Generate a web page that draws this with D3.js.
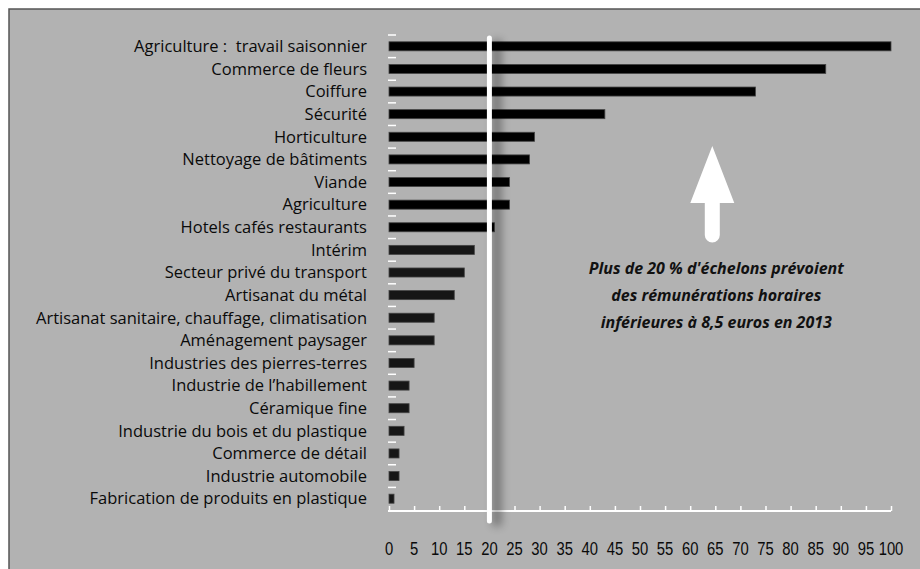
<!DOCTYPE html>
<html>
<head>
<meta charset="utf-8">
<script src="https://cdn.jsdelivr.net/npm/d3@7"></script>
<style>
  body { margin: 0; background: #fff; }
  svg { display: block; }
</style>
</head>
<body>
<svg width="920" height="569"></svg>
<script>
// branches et part d'échelons sous 8,5 euros (en %)
const branches = [
  "Agriculture :\u00a0 travail saisonnier", "Commerce de fleurs", "Coiffure", "Sécurité",
  "Horticulture", "Nettoyage de bâtiments", "Viande", "Agriculture",
  "Hotels cafés restaurants", "Intérim", "Secteur privé du transport",
  "Artisanat du métal", "Artisanat sanitaire, chauffage, climatisation",
  "Aménagement paysager", "Industries des pierres-terres", "Industrie de l\u2019habillement",
  "Céramique fine", "Industrie du bois et du plastique", "Commerce de détail",
  "Industrie automobile", "Fabrication de produits en plastique"
];
const parts = [100, 87, 73, 43, 29, 28, 24, 24, 21, 17, 15, 13, 9, 9, 5, 4, 4, 3, 2, 2, 1];
const xTicks = d3.range(0, 101, 5);
const seuil = 20;
const noteLines = [
  "Plus de 20 % d'échelons prévoient",
  "des rémunérations horaires",
  "inférieures à 8,5 euros en 2013"
];

const svg = d3.select("svg");

// fond gris encadré
svg.append("rect")
  .attr("x", 9).attr("y", 9)
  .attr("width", 930).attr("height", 580)
  .attr("fill", "#b2b2b2")
  .attr("stroke", "#555").attr("stroke-width", 1.5);

const x = d3.scaleLinear().domain([0, 100]).range([389, 891]);
const y = d3.scaleBand().domain(branches).range([35, 510])
  .paddingInner(0.6).paddingOuter(0.3);

const defs = svg.append("defs");
defs.append("filter").attr("id", "flou")
  .attr("filterUnits", "userSpaceOnUse")
  .attr("x", 400).attr("y", 0).attr("width", 200).attr("height", 569)
  .append("feGaussianBlur").attr("stdDeviation", 4);

// barres
svg.append("g")
  .selectAll("rect")
  .data(branches)
  .enter().append("rect")
    .attr("x", x(0))
    .attr("y", d => y(d))
    .attr("width", (d, i) => x(parts[i]) - x(0))
    .attr("height", y.bandwidth())
    .attr("fill", (d, i) => parts[i] > seuil ? "#000" : "#161616")
    .attr("stroke", "#444").attr("stroke-width", 0.8);

// libellés
svg.append("g")
  .selectAll("text")
  .data(branches)
  .enter().append("text")
    .attr("x", 367)
    .attr("y", d => y(d) + y.bandwidth() / 2)
    .attr("dy", "0.35em")
    .attr("text-anchor", "end")
    .style("font-family", "'Open Sans', sans-serif")
    .style("font-size", "16.5px")
    .attr("fill", "#0a0a0a")
    .text(d => d);

// petites graduations blanches entre les catégories
svg.append("g")
  .selectAll("line")
  .data(branches)
  .enter().append("line")
    .attr("x1", 388).attr("x2", 396)
    .attr("y1", d => y(d) - y.step() * y.paddingInner() / 2)
    .attr("y2", d => y(d) - y.step() * y.paddingInner() / 2)
    .attr("stroke", "#fff").attr("stroke-width", 1.5);

// axe horizontal
const axis = svg.append("g")
  .attr("transform", "translate(0,511)")
  .call(d3.axisTop(x).tickValues(xTicks).tickSize(5).tickFormat(""));
axis.select(".domain").attr("stroke", "#fff").attr("stroke-width", 2)
  .attr("d", `M${x(0) - 1},0H${x(100)}`);
axis.selectAll(".tick line").attr("stroke", "#fff").attr("stroke-width", 1.5);

svg.append("g")
  .selectAll("text")
  .data(xTicks)
  .enter().append("text")
    .attr("transform", d => `translate(${x(d)},555) scale(0.8,1)`)
    .attr("text-anchor", "middle")
    .style("font-family", "'Liberation Sans', sans-serif")
    .style("font-size", "18.5px")
    .attr("fill", "#0a0a0a")
    .text(d => d);

// ligne des 20 % avec son ombre
const lx = x(seuil);
svg.append("rect")
  .attr("x", lx + 3).attr("y", 40)
  .attr("width", 9).attr("height", 486)
  .attr("fill", "#000").attr("opacity", 0.35)
  .attr("filter", "url(#flou)");
svg.append("line")
  .attr("x1", lx).attr("x2", lx)
  .attr("y1", 38).attr("y2", 521)
  .attr("stroke", "#fff").attr("stroke-width", 5)
  .attr("stroke-linecap", "round");

// flèche
const ax = x(64.4);
svg.append("path")
  .attr("d", `M${ax},146 L${ax + 22},203 L${ax + 7.5},203 L${ax + 7.5},235
              A7.5,7.5 0 0 1 ${ax - 7.5},235 L${ax - 7.5},203 L${ax - 22},203 Z`)
  .attr("fill", "#fff");

// note
svg.append("g")
  .selectAll("text")
  .data(noteLines)
  .enter().append("text")
    .attr("x", x(65.2))
    .attr("y", (d, i) => 274 + i * 27)
    .attr("text-anchor", "middle")
    .style("font-family", "'Open Sans', sans-serif")
    .style("font-size", "16px")
    .style("font-weight", "bold")
    .style("font-style", "italic")
    .attr("fill", "#111")
    .text(d => d);
</script>
</body>
</html>
